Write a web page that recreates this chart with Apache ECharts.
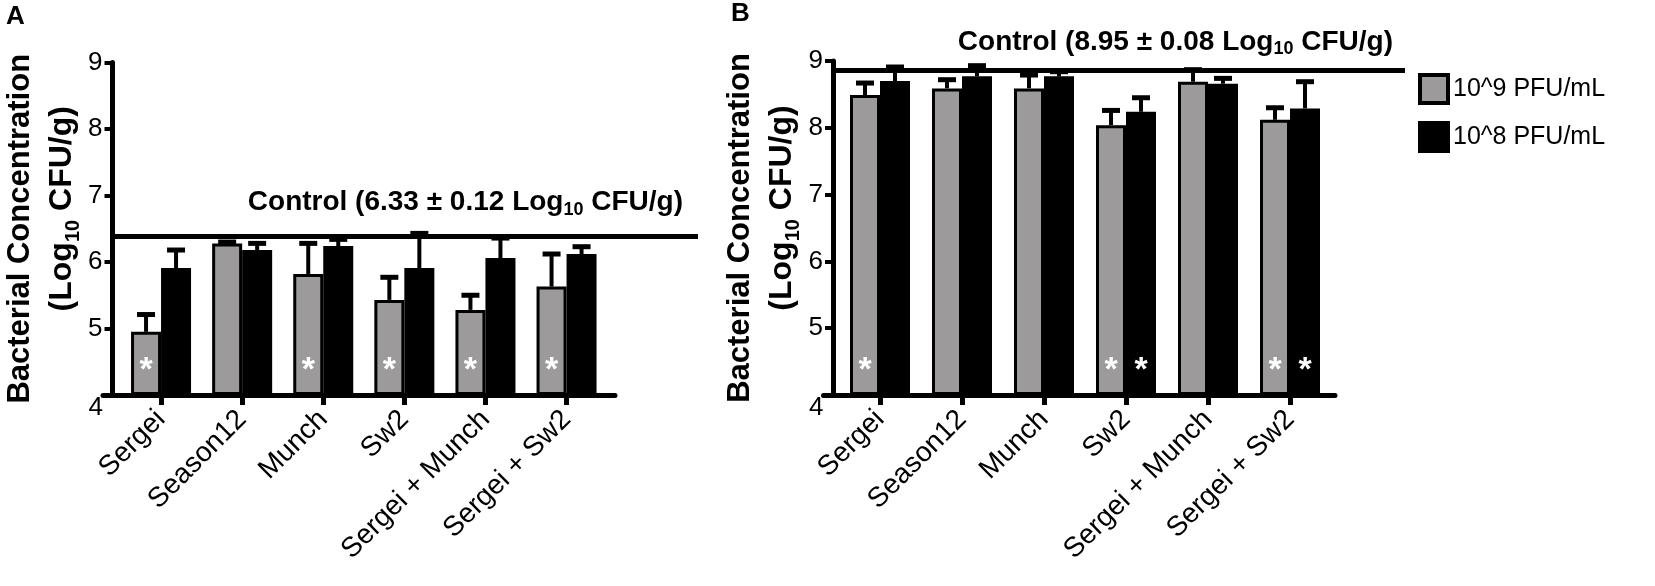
<!DOCTYPE html>
<html>
<head>
<meta charset="utf-8">
<script src="https://cdn.jsdelivr.net/npm/echarts@6/dist/echarts.min.js"></script>
<style>
  html, body { margin: 0; padding: 0; background: #fff; }
  #chart { width: 1655px; height: 586px; }
</style>
</head>
<body>
<div id="chart"></div>
<script>
// ---- data ----
const categories = ['Sergei', 'Season12', 'Munch', 'Sw2', 'Sergei + Munch', 'Sergei + Sw2'];
const legendNames = ['10^9 PFU/mL', '10^8 PFU/mL'];
const yMin = 4, yMax = 9, yStep = 1;

// panel A
const meanA9 = [4.95, 6.28, 5.82, 5.43, 5.28, 5.63];
const sdA9   = [0.26, 0.02, 0.46, 0.34, 0.22, 0.49];
const meanA8 = [5.91, 6.18, 6.24, 5.91, 6.06, 6.12];
const sdA8   = [0.27, 0.10, 0.10, 0.52, 0.30, 0.11];
const sigA9  = [true, false, true, true, true, true];
const sigA8  = [false, false, false, false, false, false];
const controlLineA = 6.38;
const controlTextA = ['6.33', '0.12'];

// panel B
const meanB9 = [8.49, 8.59, 8.59, 8.04, 8.69, 8.12];
const sdB9   = [0.18, 0.13, 0.20, 0.22, 0.18, 0.18];
const meanB8 = [8.70, 8.77, 8.77, 8.24, 8.66, 8.29];
const sdB8   = [0.21, 0.16, 0.07, 0.21, 0.08, 0.40];
const sigB9  = [true, false, false, true, false, true];
const sigB8  = [false, false, false, true, false, true];
const controlLineB = 8.86;
const controlTextB = ['8.95', '0.08'];

// ---- layout ----
const FONT = '"Liberation Sans", Arial, Helvetica, sans-serif';
const GRAY = '#9c9a9a';
const BAR_W = 30;

const panels = [
  { label: 'A', labelPos: [6, 4], axisX: 112.5, barsLeft: 120.5, barsWidth: 486.6, top: 62.5, height: 332.5,
    extLeft: 103, extRight: 615, ctrlRight: 698, labelDist: [15, 18],
    m9: meanA9, s9: sdA9, m8: meanA8, s8: sdA8, sig9: sigA9, sig8: sigA8,
    control: controlLineA, controlText: controlTextA },
  { label: 'B', labelPos: [731, 1], axisX: 833, barsLeft: 839, barsWidth: 492, top: 61, height: 334,
    extLeft: 823.5, extRight: 1335, ctrlRight: 1405, labelDist: [12, 12],
    m9: meanB9, s9: sdB9, m8: meanB8, s8: sdB8, sig9: sigB9, sig8: sigB8,
    control: controlLineB, controlText: controlTextB }
];

function errRenderer(shift) {
  return function (params, api) {
    const i = api.value(0), m = api.value(1), s = api.value(2);
    const base = api.coord([i, m]);
    const tip = api.coord([i, m + s]);
    const x = base[0] + shift;
    return {
      type: 'group',
      children: [
        { type: 'line', shape: { x1: x, y1: base[1], x2: x, y2: tip[1] }, style: { stroke: '#000', lineWidth: 4 } },
        { type: 'line', shape: { x1: x - 9, y1: tip[1], x2: x + 9, y2: tip[1] }, style: { stroke: '#000', lineWidth: 5 } }
      ]
    };
  };
}

const grid = [], xAxis = [], yAxis = [], series = [], title = [];

panels.forEach(function (p, k) {
  const g0 = k * 3, g1 = g0 + 1, g2 = g0 + 2;
  // bars grid
  grid.push({ left: p.barsLeft, width: p.barsWidth, top: p.top, height: p.height, outerBoundsMode: 'none' });
  // long x-axis line grid (also carries the lowest y tick label)
  grid.push({ left: p.extLeft, width: p.extRight - p.extLeft, top: p.top, height: p.height, outerBoundsMode: 'none' });
  // control line grid
  grid.push({ left: p.axisX, width: p.ctrlRight - p.axisX, top: p.top, height: p.height, outerBoundsMode: 'none' });

  xAxis.push({
    type: 'category', gridIndex: g0, data: categories,
    axisLine: { show: false },
    axisTick: { show: true, alignWithLabel: true, length: 10, lineStyle: { color: '#000', width: 5 } },
    axisLabel: { interval: 0, rotate: 45, margin: 20, color: '#000', fontSize: 28, fontFamily: FONT },
    splitLine: { show: false }
  });
  xAxis.push({
    type: 'value', gridIndex: g1, min: 0, max: 1,
    axisLine: { show: true, lineStyle: { color: '#000', width: 5 } },
    axisTick: { show: false }, axisLabel: { show: false }, splitLine: { show: false }
  });
  xAxis.push({ type: 'value', gridIndex: g2, min: 0, max: 1, show: false });

  yAxis.push({
    type: 'value', gridIndex: g0, min: yMin, max: yMax, interval: yStep, startValue: yMin,
    offset: p.barsLeft - p.axisX,
    axisLine: { show: true, lineStyle: { color: '#000', width: 5 } },
    axisTick: { show: true, length: 8, lineStyle: { color: '#000', width: 4 } },
    axisLabel: { color: '#000', fontSize: 26, margin: 10, fontFamily: FONT, showMinLabel: false },
    splitLine: { show: false },
    name: '{a|Bacterial Concentration}\n{p|(Log}{s|10}{b| CFU/g)}',
    nameLocation: 'middle', nameRotate: 90, nameGap: 29.5, nameMoveOverlap: false,
    nameTextStyle: {
      fontFamily: FONT, color: '#000',
      rich: {
        a: { fontSize: 31, fontWeight: 'bold', lineHeight: 42, fontFamily: FONT, color: '#000' },
        b: { fontSize: 32, fontWeight: 'bold', lineHeight: 42, fontFamily: FONT, color: '#000' },
        p: { fontSize: 32, fontWeight: 'bold', lineHeight: 42, fontFamily: FONT, color: '#000', padding: [0, 0, 0, 40] },
        s: { fontSize: 20, fontWeight: 'bold', lineHeight: 24, verticalAlign: 'bottom', fontFamily: FONT, color: '#000' }
      }
    }
  });
  // lowest tick label "4", drawn a little below the corner like the original
  yAxis.push({
    type: 'value', gridIndex: g1, min: yMin, max: yMax,
    axisLine: { show: false }, axisTick: { show: false }, splitLine: { show: false },
    axisLabel: {
      customValues: [yMin], color: '#000', fontSize: 26, margin: 0,
      verticalAlign: 'top', fontFamily: FONT
    }
  });
  yAxis.push({ type: 'value', gridIndex: g2, min: yMin, max: yMax, show: false });

  const starLabel = {
    position: 'insideBottom', distance: 7, formatter: '*',
    color: '#fff', fontSize: 34, fontWeight: 'bold', fontFamily: FONT
  };

  series.push({
    type: 'bar', name: legendNames[0], xAxisIndex: g0, yAxisIndex: g0,
    barWidth: BAR_W, barGap: '0%', z: 2,
    itemStyle: { color: GRAY, borderColor: '#000', borderWidth: 3 },
    label: starLabel,
    data: p.m9.map(function (v, i) { return { value: v, label: { show: p.sig9[i] } }; })
  });
  series.push({
    type: 'bar', name: legendNames[1], xAxisIndex: g0, yAxisIndex: g0,
    barWidth: BAR_W, barGap: '0%', z: 2,
    itemStyle: { color: '#000', borderColor: '#000', borderWidth: 3 },
    label: starLabel,
    data: p.m8.map(function (v, i) { return { value: v, label: { show: p.sig8[i] } }; })
  });
  series.push({
    type: 'custom', xAxisIndex: g0, yAxisIndex: g0, z: 3, silent: true,
    renderItem: errRenderer(-BAR_W / 2),
    data: p.m9.map(function (v, i) { return [i, v, p.s9[i]]; })
  });
  series.push({
    type: 'custom', xAxisIndex: g0, yAxisIndex: g0, z: 3, silent: true,
    renderItem: errRenderer(BAR_W / 2),
    data: p.m8.map(function (v, i) { return [i, v, p.s8[i]]; })
  });
  series.push({
    type: 'line', xAxisIndex: g2, yAxisIndex: g2, z: 5, data: [], silent: true,
    markLine: {
      symbol: 'none', silent: true, animation: false,
      lineStyle: { color: '#000', width: 5, type: 'solid' },
      label: {
        show: true, position: 'insideEndTop', distance: p.labelDist,
        formatter: '{m|Control (' + p.controlText[0] + ' ± ' + p.controlText[1] + ' Log}{s|10}{m| CFU/g)}',
        rich: {
          m: { fontSize: 28, fontWeight: 'bold', lineHeight: 32, fontFamily: FONT, color: '#000' },
          s: { fontSize: 18, fontWeight: 'bold', lineHeight: 20, verticalAlign: 'bottom', fontFamily: FONT, color: '#000' }
        }
      },
      data: [{ yAxis: p.control }]
    }
  });

  title.push({
    text: p.label, left: p.labelPos[0], top: p.labelPos[1], padding: 0,
    textStyle: { fontSize: 26, fontWeight: 'bold', color: '#000', fontFamily: FONT }
  });
});

const chart = echarts.init(document.getElementById('chart'));
chart.setOption({
  animation: false,
  backgroundColor: '#fff',
  title: title,
  legend: {
    data: legendNames, orient: 'vertical', left: 1413, top: 68,
    itemWidth: 28, itemHeight: 28, itemGap: 16, icon: 'rect', selectedMode: false,
    itemStyle: { borderColor: '#000', borderWidth: 4 },
    textStyle: { fontSize: 25, color: '#000', fontFamily: FONT }
  },
  grid: grid,
  xAxis: xAxis,
  yAxis: yAxis,
  series: series
});
</script>
</body>
</html>
